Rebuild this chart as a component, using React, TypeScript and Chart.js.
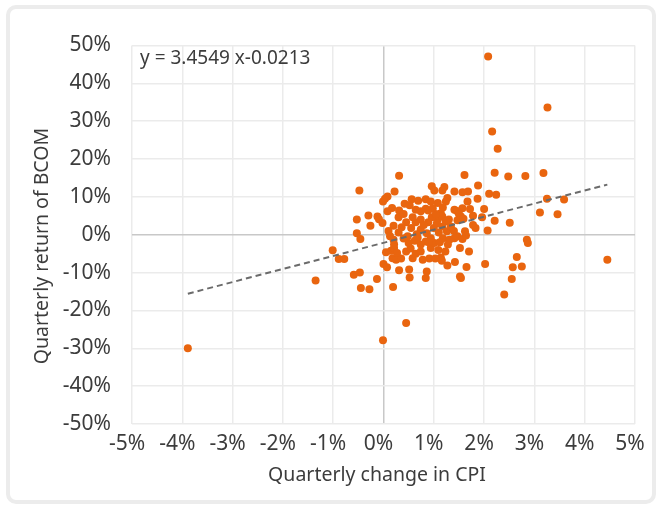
import React, { useEffect, useRef } from "react";
import { Chart, registerables } from "chart.js";

Chart.register(...registerables);

// Quarterly change in CPI (%)
const cpiChange = [
  2.08, 3.26, 2.16, 2.27, 1.61, 2.21, 2.48, 2.82, 3.18, 1.88,
  2.10, 2.24, 3.25, 3.59, 3.11, 3.46, 2.51, 2.21, 2.07, 2.85,
  2.87, 1.96, 2.00, 1.87, 1.72, 1.68, 1.57, 1.41, 1.21, 1.17,
  0.96, 1.01, 1.67, 1.57, 1.41, 1.46, 1.54, 1.78, 1.83, 1.62,
  1.64, 1.78, 1.50, 1.47, 1.59, 1.30, 1.08, 1.14, 1.17, 1.24,
  1.17, 1.27, 1.24, 1.08, 1.09, 1.23, 1.52, 1.70, 1.14, 1.16,
  1.27, 1.42, 1.65, 1.52, 1.54, 2.02, 2.65, 2.57, 2.75, 2.55,
  2.40, 4.45, 1.18, 1.31, 1.41, 1.47, 1.57, 0.45, 0.31, 0.51,
  0.52, 0.84, 0.86, 0.91, 1.03, 0.18, 0.25, 0.35, 0.15, 0.21,
  0.21, 0.20, 0.05, 0.00, 0.07, 0.19, -0.01, 0.45, 0.54, 0.58,
  0.64, 0.74, 0.78, 0.74, 0.84, 0.94, 1.01, 0.94, 0.62, 0.40,
  0.50, -0.48, -0.01, 0.08, 0.22, 0.31, -0.30, -0.53, -0.12, -0.09,
  -0.26, -0.02, -0.53, -0.46, -1.01, -0.89, -0.78, -1.35, -0.59, -0.47,
  -0.45, -0.28, -0.13, -3.89, 0.03, 0.56, 0.69, 0.84, 0.94, 0.17,
  0.31, 0.08, 0.64, 0.74, 0.84, 0.89, 0.74, 0.89, 0.64, 0.45,
  0.55, 0.74, 0.30, 0.40, 0.20, 0.30, 0.10, 0.96, 1.00, 0.86,
  1.04, 0.66, 0.48, 0.80, 1.10, 1.26, 1.34, 1.40, 1.28, 1.12,
  0.36, 0.58, 0.68, 0.90, 1.06, 0.52, 0.98, 0.42, 0.13, 0.27,
  1.18,
];

// Quarterly return of BCOM (%)
const bcomReturn = [
  47.1, 33.6, 27.3, 22.7, 15.8, 16.4, 15.4, 15.5, 16.3, 13.0,
  10.8, 10.6, 9.5, 9.3, 5.9, 5.4, 3.2, 3.7, 1.1, -1.3,
  -2.2, 4.6, 6.8, 9.5, 6.8, 11.4, 11.2, 11.4, 12.6, 11.7,
  12.8, 11.7, 8.8, 7.0, 6.6, 6.3, 4.8, 2.6, 1.8, 0.9,
  -0.2, 5.0, 5.5, 3.8, 4.2, 4.0, 4.0, 5.7, 4.8, 3.5,
  2.2, 9.7, 8.8, 8.4, -4.0, -4.4, -3.5, -4.4, -6.0, -6.9,
  -8.1, -7.2, -8.5, -11.0, -11.4, -7.7, -5.9, -8.6, -8.4, -11.7,
  -15.8, -6.6, -0.9, -1.3, -0.9, -0.4, -1.1, -23.3, -9.4, -9.2,
  -11.3, -11.4, -9.7, -6.3, -6.3, -6.2, -6.6, -6.3, -4.2, -3.5,
  -2.5, -1.3, -4.6, -7.7, -8.6, -13.8, -27.9, -4.4, -3.6, -6.2,
  -5.0, -4.4, -6.6, -2.6, -1.8, -3.5, -2.2, -0.9, -1.6, -1.0,
  -2.2, 11.7, 8.8, 10.1, 11.4, 15.6, 5.1, 4.0, 4.8, 4.1,
  2.4, 3.1, 0.4, -1.1, -4.1, -6.4, -6.4, -12.1, -10.6, -10.0,
  -14.1, -14.4, -11.7, -30.0, 9.5, 9.4, 9.0, 9.4, 8.8, 7.1,
  6.4, 6.2, 6.6, 6.2, 6.9, 6.4, 4.0, 3.3, 3.3, 3.3,
  1.8, 1.4, 4.6, 5.5, 2.4, 0.6, 1.0, 4.6, 1.8, 0.4,
  5.5, 0.1, -0.4, 2.6, 0.6, 0.9, 2.2, 1.0, -2.6, -2.0,
  2.0, 4.6, -0.8, -2.0, 3.0, 7.8, 7.0, 8.2, -0.4, -4.8,
  7.2,
];

// Linear trendline (fraction units): y = slope * x + intercept
const trendSlope = 3.4549;
const trendIntercept = -0.0213;
const equationLabel = "y = 3.4549 x-0.0213";

const xTicks = [-5, -4, -3, -2, -1, 0, 1, 2, 3, 4, 5];
const yTicks = [-50, -40, -30, -20, -10, 0, 10, 20, 30, 40, 50];

const xTitle = "Quarterly change in CPI";
const yTitle = "Quarterly return of BCOM";

const FONT = "'Noto Sans', sans-serif";
const TEXT = "#3c3c3c";
const FS = 19;
const TICK_FS = 21;
const TITLE_FS = 19.5;

export default function App() {
  const ref = useRef<HTMLCanvasElement | null>(null);

  useEffect(() => {
    const canvas = ref.current;
    if (!canvas) return;

    const points = cpiChange.map((x, i) => ({ x, y: bcomReturn[i] }));
    const xMin = Math.min(...cpiChange);
    const xMax = Math.max(...cpiChange);
    const trendY = (xp: number) => (trendSlope * (xp / 100) + trendIntercept) * 100;
    const trend = [
      { x: xMin, y: trendY(xMin) },
      { x: xMax, y: trendY(xMax) },
    ];

    const textPlugin = {
      id: "texts",
      afterDraw(chart: any) {
        const { ctx, chartArea } = chart;
        ctx.save();
        ctx.fillStyle = TEXT;
        ctx.textBaseline = "middle";
        ctx.textAlign = "left";
        ctx.font = `${FS}px ${FONT}`;
        ctx.fillText(equationLabel, chartArea.left + 8, chartArea.top + 13);
        ctx.textAlign = "center";
        ctx.font = `${TITLE_FS}px ${FONT}`;
        ctx.fillText(xTitle, 377, 475);
        ctx.translate(42, 246);
        ctx.rotate(-Math.PI / 2);
        ctx.fillText(yTitle, 0, 0);
        ctx.restore();
      },
    };

    const chart = new Chart(canvas, {
      type: "scatter",
      data: {
        datasets: [
          {
            type: "line",
            data: trend,
            borderColor: "#6b6b6b",
            borderWidth: 2,
            borderDash: [6, 4],
            pointRadius: 0,
            fill: false,
            order: 0,
          } as any,
          {
            data: points,
            backgroundColor: "#E9650F",
            borderWidth: 0,
            pointRadius: 4,
            pointHoverRadius: 4,
            order: 1,
          },
        ],
      },
      options: {
        animation: false,
        responsive: false,
        devicePixelRatio: 1,
        layout: { padding: { left: 0, right: 22, top: 45.5, bottom: 0 } },
        plugins: {
          legend: { display: false },
          tooltip: { enabled: false },
        },
        scales: {
          x: {
            type: "linear",
            min: -5,
            max: 5,
            afterBuildTicks: (scale: any) => {
              scale.ticks = xTicks.map((v) => ({ value: v }));
            },
            afterFit: (scale: any) => {
              scale.height = 82;
            },
            grid: {
              color: (c: any) => (c.tick && c.tick.value === 0 ? "#c8c8c8" : "#ebebeb"),
              lineWidth: 1.5,
              drawTicks: false,
            },
            border: { display: false },
            ticks: {
              color: TEXT,
              font: { family: FONT, size: TICK_FS },
              padding: 7,
              labelOffset: -5,
              maxRotation: 0,
              callback: (v: any) => `${v}%`,
            },
            title: { display: false },
          },
          y: {
            type: "linear",
            min: -50,
            max: 50,
            afterBuildTicks: (scale: any) => {
              scale.ticks = yTicks.map((v) => ({ value: v }));
            },
            afterFit: (scale: any) => {
              scale.width = 132;
            },
            grid: {
              color: (c: any) => (c.tick && c.tick.value === 0 ? "#c8c8c8" : "#ebebeb"),
              lineWidth: 1.5,
              drawTicks: false,
            },
            border: { display: false },
            ticks: {
              color: TEXT,
              font: { family: FONT, size: TICK_FS },
              padding: 21,
              callback: (v: any) => `${v}%`,
            },
            title: { display: false },
          },
        },
      },
      plugins: [textPlugin],
    });

    return () => chart.destroy();
  }, []);

  return (
    <div
      style={{
        position: "fixed",
        left: 0,
        top: 0,
        width: 657,
        height: 506,
        background: "#ffffff",
        overflow: "hidden",
      }}
    >
      <div
        style={{
          position: "absolute",
          left: 6,
          top: 5,
          width: 650,
          height: 499,
          boxSizing: "border-box",
          border: "4px solid #ececec",
          borderRadius: 10,
        }}
      />
      <canvas
        ref={ref}
        width={657}
        height={506}
        style={{ position: "absolute", left: 0, top: 0, width: 657, height: 506 }}
      />
    </div>
  );
}
